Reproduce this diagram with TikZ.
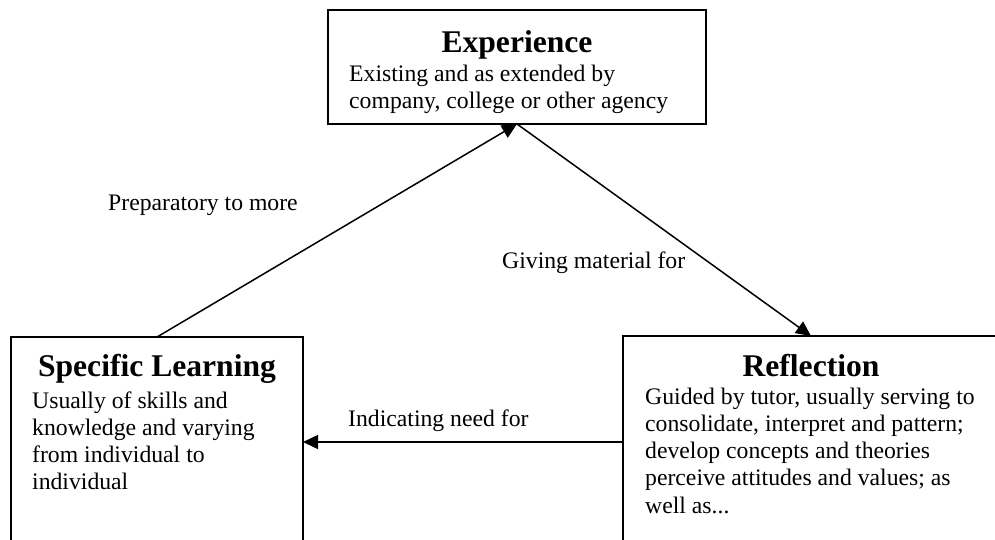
\documentclass[tikz,border=0pt]{standalone}
\usepackage{fontspec}
\setmainfont{Liberation Serif}
\usetikzlibrary{arrows.meta}
\begin{document}
\begin{tikzpicture}[x=1pt,y=-1pt,
  box/.style={draw, line width=1.8pt, rectangle, inner sep=0pt, outer sep=0pt},
  ttl/.style={font=\fontsize{31.6}{36}\selectfont\bfseries, inner sep=0pt, anchor=base},
  bodytext/.style={font=\fontsize{23.7}{27.3}\selectfont, inner sep=0pt, anchor=base west},
  lbl/.style={font=\fontsize{23.7}{27.3}\selectfont, inner sep=0pt, anchor=base west},
  conn/.style={line width=1.5pt, -{Triangle[length=15pt,width=14pt]}}]
\useasboundingbox (0,0) rectangle (995,539);
\clip (0,0) rectangle (995,539);
% boxes
\node[box, minimum width=378pt, minimum height=114pt] (exp) at (517,67) {};
\node[box, minimum width=292pt, minimum height=210pt, anchor=north west] (spec) at (11,337) {};
\node[box, minimum width=376pt, minimum height=212pt, anchor=north west] (refl) at (623,336) {};
% titles
\node[ttl] (expt) at (517,52) {Experience};
\node[ttl] (spect) at (157,376) {Specific Learning};
\node[ttl] (reflt) at (811,376) {Reflection};
% bodies
\node[bodytext] (expb) at (349,81) {\parbox[t]{400pt}{\raggedright Existing and as extended by\\company, college or other agency}};
\node[bodytext] (specb) at (32,408) {\parbox[t]{300pt}{\raggedright Usually of skills and\\knowledge and varying\\from individual to\\individual}};
\node[bodytext] (reflb) at (645,404) {\parbox[t]{400pt}{\raggedright Guided by tutor, usually serving to\\consolidate, interpret and pattern;\\develop concepts and theories\\perceive attitudes and values; as\\well as...}};
% connectors
\draw[conn] (spec.north) -- (exp.south);
\draw[conn] (exp.south) -- (refl.north);
\draw[conn] (refl.west) -- (spec.east);
% labels
\node[lbl] (l1) at (108,210) {Preparatory to more};
\node[lbl] (l2) at (502,268) {Giving material for};
\node[lbl] (l3) at (348,426) {Indicating need for};
\end{tikzpicture}
\end{document}
